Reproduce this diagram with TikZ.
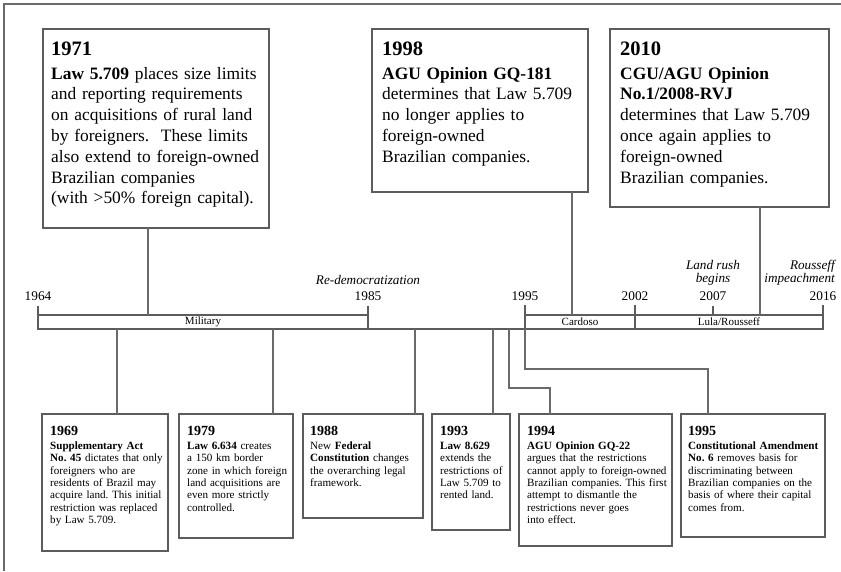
\documentclass[tikz,border=0pt]{standalone}
\usepackage{fontspec}
\setmainfont{Liberation Serif}
\frenchspacing
\definecolor{edge}{HTML}{5C5C5C}
\definecolor{lineg}{HTML}{6A6A6A}
\tikzset{
  frame/.style={draw=lineg, line width=1.2pt},
  topbox/.style={draw=edge, line width=1.2pt, inner sep=0pt, outer sep=0pt, anchor=north west},
  botbox/.style={draw=edge, line width=1.5pt, inner sep=0pt, outer sep=0pt, anchor=north west},
  conn/.style={draw=lineg, line width=1.1pt},
  tl/.style={draw=edge, line width=1.4pt},
  bar/.style={draw=edge, line width=1.4pt, inner sep=0pt, outer sep=0pt, minimum height=14pt, font=\fontsize{11}{12}\selectfont},
  toptitle/.style={anchor=base west, inner sep=0pt, font=\fontsize{20.5}{22}\selectfont\bfseries},
  topbody/.style={anchor=base west, inner sep=0pt, text width=250pt, align=left, font=\fontsize{17.4}{20.8}\selectfont},
  bottitle/.style={anchor=base west, inner sep=0pt, font=\fontsize{14}{15}\selectfont\bfseries},
  botbody/.style={anchor=base west, inner sep=0pt, text width=180pt, align=left, font=\fontsize{11.1}{12.3}\selectfont},
  yearlab/.style={anchor=base, inner sep=0pt, font=\fontsize{13.3}{15}\selectfont},
  evlab/.style={inner sep=0pt, font=\fontsize{13.2}{15}\selectfont\itshape},
}
\begin{document}
\begin{tikzpicture}[x=1pt,y=-1pt]
\useasboundingbox (0,0) rectangle (841,571);
\draw[frame] (4,571) -- (4,4) -- (841,4);

% ---- top boxes
\node[topbox, minimum width=226pt, minimum height=199pt] (b1971) at (43,29) {};
\node[toptitle] (t1971) at (51,55) {1971};
\node[topbody] (x1971) at (51,79) {\textbf{Law 5.709} places size limits\\
and reporting requirements\\
on acquisitions of rural land\\
by foreigners.\ \ These limits\\
also extend to foreign-owned\\
Brazilian companies\\
(with >50\% foreign capital).};

\node[topbox, minimum width=216pt, minimum height=163pt] (b1998) at (372,29) {};
\node[toptitle] (t1998) at (382,55) {1998};
\node[topbody] (x1998) at (382,79) {\textbf{AGU Opinion GQ-181}\\
determines that Law 5.709\\
no longer applies to\\
foreign-owned\\
Brazilian companies.};

\node[topbox, minimum width=219pt, minimum height=178pt] (b2010) at (610,29) {};
\node[toptitle] (t2010) at (620,55) {2010};
\node[topbody] (x2010) at (620,79) {\textbf{CGU/AGU Opinion}\\
\textbf{No.1/2008-RVJ}\\
determines that Law 5.709\\
once again applies to\\
foreign-owned\\
Brazilian companies.};

% ---- timeline bars
\node[bar, minimum width=330pt] (mil) at (203,322) {Military};
\node[bar, minimum width=110pt] (card) at (580,322) {Cardoso};
\node[bar, minimum width=188pt] (lula) at (729,322) {Lula/Rousseff};
\draw[tl] (mil.south east) -- (card.south west);

% ticks
\draw[tl] (mil.north west) -- ++(0,-9);
\draw[tl] (mil.north east) -- ++(0,-9);
\draw[tl] (card.north west) -- ++(0,-10);
\draw[tl] (card.north east) -- ++(0,-10);
\draw[tl] (lula.north east) -- ++(0,-10);
\coordinate (k2007) at (713,306);
\draw[tl] (k2007) -- (k2007 |- lula.north);

% year labels
\node[yearlab] (y1964) at (38,300) {1964};
\node[yearlab] (y1985) at (368,300) {1985};
\node[yearlab] (y1995) at (525,300) {1995};
\node[yearlab] (y2002) at (635,300) {2002};
\node[yearlab] (y2007) at (713,300) {2007};
\node[yearlab] (y2016) at (823,300) {2016};

% event labels
\node[evlab, anchor=base] (redem) at (368,284) {Re-democratization};
\node[evlab, anchor=base] (rush1) at (713,269.5) {Land rush};
\node[evlab, anchor=base] (rush2) at (713,282) {begins};
\node[evlab, anchor=base east] (imp1) at (835,269.5) {Rousseff};
\node[evlab, anchor=base east] (imp2) at (835,282) {impeachment};

% ---- connectors from top boxes
\coordinate (c1971) at ([xshift=105pt]b1971.south west);
\draw[conn] (c1971) -- (c1971 |- mil.north);
\coordinate (c1998) at ([xshift=200pt]b1998.south west);
\draw[conn] (c1998) -- (c1998 |- card.north);
\coordinate (c2010) at ([xshift=150pt]b2010.south west);
\draw[conn] (c2010) -- (c2010 |- lula.north);

% ---- bottom boxes
\node[botbox, minimum width=126pt, minimum height=137pt] (b1969) at (42,414) {};
\node[bottitle] (t1969) at (50,435) {1969};
\node[botbody] (x1969) at (50,449.5) {\textbf{Supplementary Act}\\
\textbf{No. 45} dictates that only\\
foreigners who are\\
residents of Brazil may\\
acquire land. This initial\\
restriction was replaced\\
by Law 5.709.};

\node[botbox, minimum width=114pt, minimum height=124pt] (b1979) at (179,414) {};
\node[bottitle] (t1979) at (187,435) {1979};
\node[botbody] (x1979) at (187,449.5) {\textbf{Law 6.634} creates\\
a 150 km border\\
zone in which foreign\\
land acquisitions are\\
even more strictly\\
controlled.};

\node[botbox, minimum width=120pt, minimum height=104pt] (b1988) at (303,414) {};
\node[bottitle] (t1988) at (310,435) {1988};
\node[botbody] (x1988) at (310,449.5) {New \textbf{Federal}\\
\textbf{Constitution} changes\\
the overarching legal\\
framework.};

\node[botbox, minimum width=78pt, minimum height=116pt] (b1993) at (432,414) {};
\node[bottitle] (t1993) at (440,435) {1993};
\node[botbody] (x1993) at (440,449.5) {\textbf{Law 8.629}\\
extends the\\
restrictions of\\
Law 5.709 to\\
rented land.};

\node[botbox, minimum width=153pt, minimum height=132pt] (b1994) at (519,414) {};
\node[bottitle] (t1994) at (527,435) {1994};
\node[botbody] (x1994) at (527,449.5) {\textbf{AGU Opinion GQ-22}\\
argues that the restrictions\\
cannot apply to foreign-owned\\
Brazilian companies. This first\\
attempt to dismantle the\\
restrictions never goes\\
into effect.};

\node[botbox, minimum width=144pt, minimum height=123pt] (b1995) at (681,414) {};
\node[bottitle] (t1995) at (688,435) {1995};
\node[botbody] (x1995) at (688,449.5) {\textbf{Constitutional Amendment}\\
\textbf{No. 6} removes basis for\\
discriminating between\\
Brazilian companies on the\\
basis of where their capital\\
comes from.};

% ---- connectors to bottom boxes
\coordinate (d1969) at ([xshift=79pt]mil.south west);
\draw[conn] (d1969) -- (d1969 |- b1969.north);
\coordinate (d1979) at ([xshift=235pt]mil.south west);
\draw[conn] (d1979) -- (d1979 |- b1979.north);
\coordinate (d1988) at ([xshift=377pt]mil.south west);
\draw[conn] (d1988) -- (d1988 |- b1988.north);
\coordinate (d1993) at ([xshift=-32pt]card.south west);
\draw[conn] (d1993) -- (d1993 |- b1993.north);
\coordinate (d1994) at ([xshift=-16pt]card.south west);
\coordinate (e1994) at (550,388);
\draw[conn] (d1994) |- (e1994) -- (e1994 |- b1994.north);
\coordinate (e1995) at (708,369);
\draw[conn] (card.south west) |- (e1995) -- (e1995 |- b1995.north);
\end{tikzpicture}
\end{document}
